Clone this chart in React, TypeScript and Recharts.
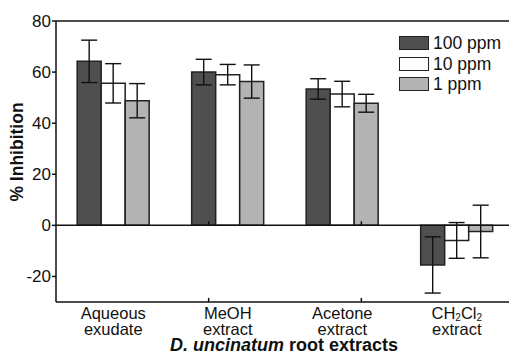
import { BarChart, Bar, XAxis, YAxis, ErrorBar, ReferenceLine } from 'recharts';

const categories = ['Aqueous|exudate', 'MeOH|extract', 'Acetone|extract', 'CH2Cl2|extract'];
const ppm100 = [64.2, 60, 53.4, -15.5];
const ppm100Err = [8.3, 5, 4, 11];
const ppm10 = [55.6, 59, 51.4, -5.9];
const ppm10Err = [7.7, 4, 5, 7];
const ppm1 = [48.8, 56.3, 47.8, -2.4];
const ppm1Err = [6.7, 6.5, 3.5, 10.3];
const yTicks = [-20, 0, 20, 40, 60, 80];
const boundaries = [1, 2, 3];

const series = [
    { key: 'p100', name: '100 ppm', fill: '#4f4f4f' },
    { key: 'p10', name: '10 ppm', fill: '#ffffff' },
    { key: 'p1', name: '1 ppm', fill: '#b3b3b3' },
];

const data = categories.map((c, i) => ({
    name: c,
    p100: ppm100[i], p100Err: ppm100Err[i],
    p10: ppm10[i], p10Err: ppm10Err[i],
    p1: ppm1[i], p1Err: ppm1Err[i],
}));

const FONT = '"Liberation Sans", Arial, Helvetica, sans-serif';

// category label, with subscripts for CH2Cl2
const CategoryTick = (props: any) => {
    const { x, y, payload } = props;
    const [l1, l2] = String(payload.value).split('|');
    const first = l1 === 'CH2Cl2' ? (
        <tspan x={x} dy={9}>
            CH<tspan fontSize={10} dy={2}>2</tspan><tspan dy={-2}>Cl</tspan><tspan fontSize={10} dy={2}>2</tspan>
        </tspan>
    ) : (
        <tspan x={x} dy={9}>{l1}</tspan>
    );
    return (
        <text x={x} y={y} textAnchor="middle" fontSize={16.5} fill="#111" fontFamily={FONT}>
            {first}
            <tspan x={x} y={y + 25}>{l2}</tspan>
        </text>
    );
};

const XTitle = (props: any) => {
    const { viewBox } = props;
    const cx = viewBox.x + viewBox.width / 2 - 1;
    return (
        <text x={cx} y={viewBox.y + 49} textAnchor="middle" fontSize={18} fontWeight="bold" fill="#111" fontFamily={FONT}>
            <tspan fontStyle="italic">D. uncinatum</tspan> root extracts
        </text>
    );
};

const YTitle = (props: any) => {
    const { viewBox } = props;
    const cy = viewBox.y + viewBox.height / 2 - 9.5;
    return (
        <text x={23} y={cy} transform={`rotate(-90 23 ${cy})`} textAnchor="middle" fontSize={17.5} fontWeight="bold" fill="#111" fontFamily={FONT}>
            % Inhibition
        </text>
    );
};

export default function App() {
    return (
        <div style={{ position: 'fixed', left: 0, top: 0, width: 509, height: 359, overflow: 'hidden', background: '#fff' }}>
            <BarChart
                width={560}
                height={359}
                data={data}
                margin={{ top: 21, right: 46, left: 0, bottom: 0 }}
                barCategoryGap="18.5%"
                barGap={0}
            >
                <XAxis
                    dataKey="name"
                    tick={<CategoryTick />}
                    tickLine={false}
                    axisLine={{ stroke: '#111', strokeWidth: 1.5 }}
                    height={57}
                    interval={0}
                    label={<XTitle />}
                />
                <XAxis xAxisId="num" type="number" domain={[0, 4]} hide />
                <YAxis
                    domain={[-30, 80]}
                    ticks={yTicks}
                    width={56}
                    tickSize={4}
                    tickMargin={1}
                    tick={{ fill: '#111', fontSize: 17, fontFamily: FONT }}
                    tickLine={{ stroke: '#111', strokeWidth: 1.5 }}
                    axisLine={{ stroke: '#111', strokeWidth: 1.5 }}
                    allowDataOverflow
                    label={<YTitle />}
                />
                <ReferenceLine y={80} stroke="#111" strokeWidth={1.5} />
                <ReferenceLine y={0} stroke="#111" strokeWidth={1.5} />
                {boundaries.map((b) => (
                    <ReferenceLine key={`z${b}`} xAxisId="num" segment={[{ x: b, y: 0 }, { x: b, y: 1.6 }]} stroke="#111" strokeWidth={1.5} />
                ))}
                {boundaries.map((b) => (
                    <ReferenceLine key={`b${b}`} xAxisId="num" segment={[{ x: b, y: -30 }, { x: b, y: -28.4 }]} stroke="#111" strokeWidth={1.5} />
                ))}
                {series.map((s) => (
                    <Bar key={s.key} dataKey={s.key} name={s.name} fill={s.fill} stroke="#222" strokeWidth={1.5} isAnimationActive={false}>
                        <ErrorBar dataKey={`${s.key}Err`} width={8} stroke="#111" strokeWidth={1.4} />
                    </Bar>
                ))}
            </BarChart>
            <div style={{ position: 'absolute', left: 399, top: 33, fontFamily: FONT, fontSize: 17.5, lineHeight: '20px', color: '#111' }}>
                {series.map((s) => (
                    <div key={s.key} style={{ display: 'flex', alignItems: 'center', height: 20.5 }}>
                        <span style={{ display: 'inline-block', width: 30, height: 14, background: s.fill, border: '1.5px solid #222', boxSizing: 'border-box', marginRight: 4 }} />
                        {s.name}
                    </div>
                ))}
            </div>
        </div>
    );
}
